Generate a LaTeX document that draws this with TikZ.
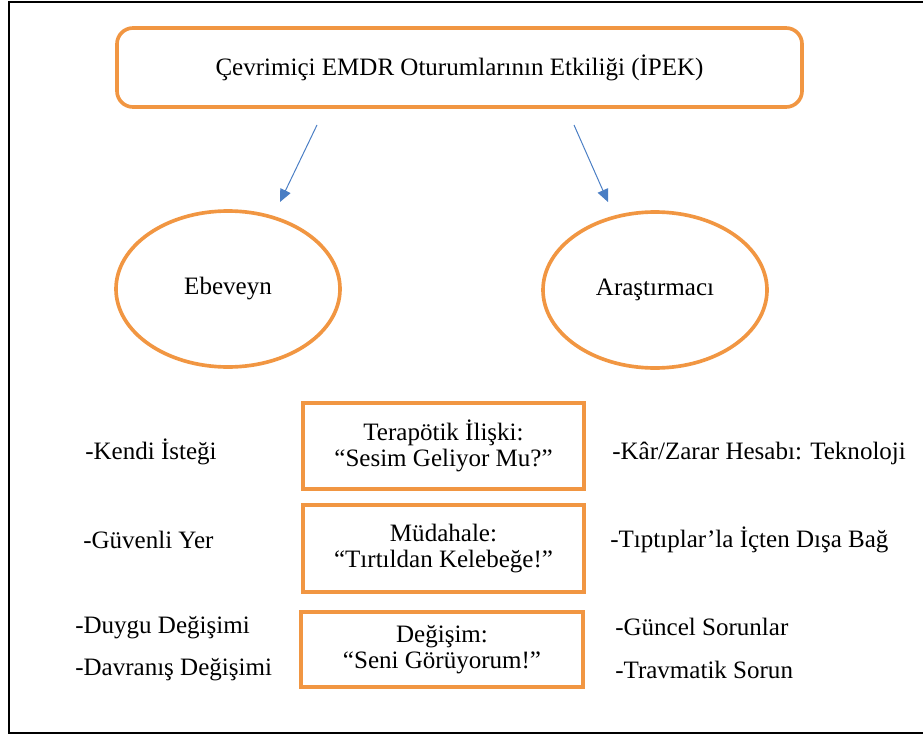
\documentclass[tikz,border=0pt]{standalone}
\usepackage{fontspec}
\setmainfont{Liberation Serif}
\usepackage{tikz}
\usetikzlibrary{positioning}
\usetikzlibrary{shapes.geometric}
\usetikzlibrary{arrows.meta}
\usepackage{xcolor}
\definecolor{ipekorange}{RGB}{241,150,66}
\definecolor{ipekblue}{RGB}{74,126,196}

\begin{document}
\begin{tikzpicture}[scale=1,
  box/.style={draw=ipekorange, line width=2.6pt, align=center, inner sep=0pt, font=\fontsize{17.8}{18}\selectfont},
  oval/.style={draw=ipekorange, ellipse, line width=2.6pt, minimum width=5.6cm, minimum height=3.9cm, inner sep=0pt, font=\fontsize{17.8}{18}\selectfont},
  item/.style={anchor=west, inner sep=0pt, font=\fontsize{17.8}{18}\selectfont},
  arr/.style={ipekblue, line width=0.7pt, -{Triangle[length=9pt,width=8pt]}}]

\useasboundingbox (0,0) rectangle (23.075,18.375);
\draw[black, line width=1.3pt] (0.225,0.05) rectangle (23.4,18.325);

\node (ipek) at (11.4875,16.6875) [box, rounded corners=0.4cm, minimum width=17.125cm, minimum height=1.975cm] {Çevrimiçi EMDR Oturumlarının Etkiliği (İPEK)};

\node (ebeveyn) at (5.7,11.15) [oval] {Ebeveyn};
\node (arastirmaci) at (16.375,11.125) [oval] {Araştırmacı};

\coordinate (ebeStart) at (7.925,15.25);
\coordinate (ebeEnd) at (7.0,13.325);
\coordinate (araStart) at (14.35,15.25);
\coordinate (araEnd) at (15.2,13.325);
\draw[arr] (ebeStart) -- (ebeEnd);
\draw[arr] (araStart) -- (araEnd);

\node (iliski) at (11.0875,7.225) [box, minimum width=7.025cm, minimum height=2.15cm] {Terapötik İlişki:\\“Sesim Geliyor Mu?”};
\node (mudahale) at (11.0875,4.6625) [box, minimum width=7.025cm, minimum height=2.175cm] {Müdahale:\\“Tırtıldan Kelebeğe!”};
\node (degisim) at (11.05,2.1375) [box, minimum width=7.05cm, minimum height=1.875cm] {Değişim:\\“Seni Görüyorum!”};

% ebeveyn tarafi
\node (kendi) at (2.125,7.075) [item] {-Kendi İsteği};
\node (guvenli) at (2.075,4.875) [item] {-Güvenli Yer};
\node (duygu) at (1.875,2.675) [item] {-Duygu Değişimi};
\node (davranis) at (1.875,1.625) [item] {-Davranış Değişimi};

% arastirmaci tarafi
\node (karzarar) at (15.3,7.05) [item] {-Kâr/Zarar Hesabı: Teknoloji};
\node (tiptip) at (15.25,4.875) [item] {-Tıptıplar’la İçten Dışa Bağ};
\node (guncel) at (15.375,2.7) [item] {-Güncel Sorunlar};
\node (travma) at (15.375,1.625) [item] {-Travmatik Sorun};

\end{tikzpicture}
\end{document}
